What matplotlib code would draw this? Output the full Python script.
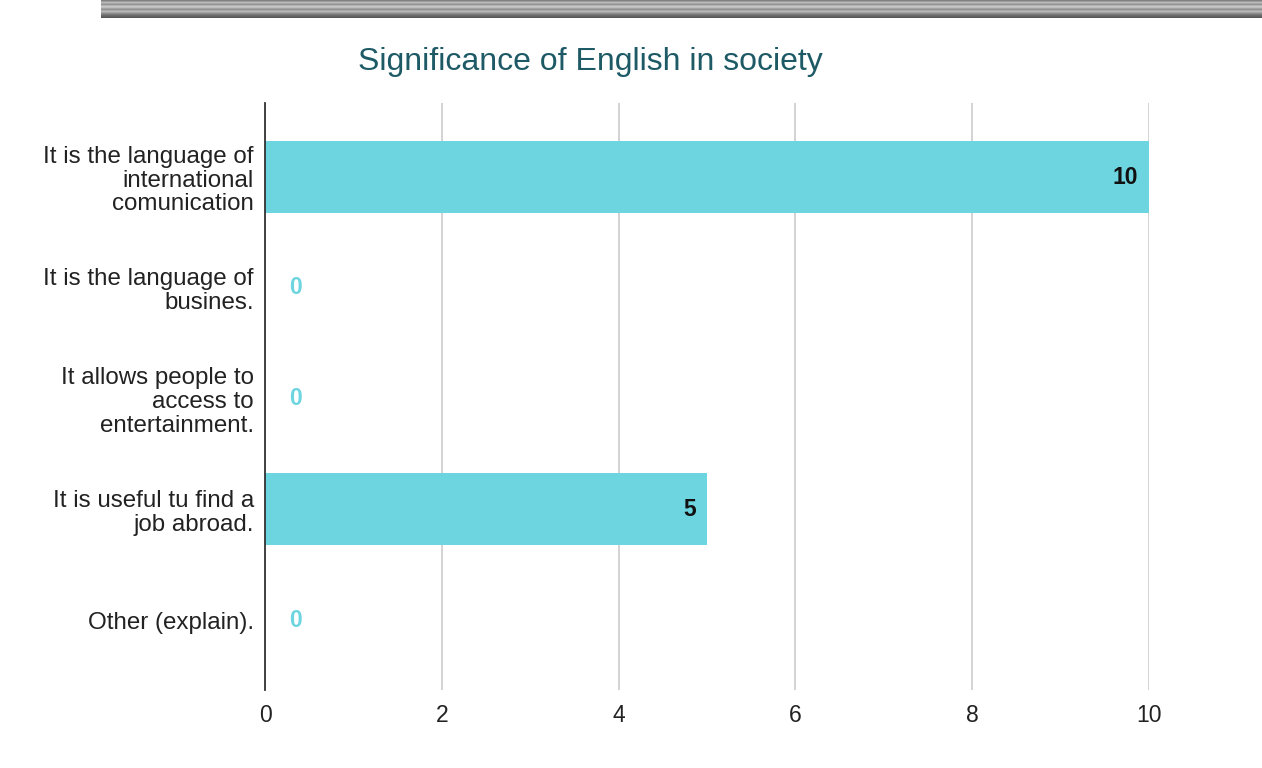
import numpy as np
import matplotlib
matplotlib.use("Agg")
import matplotlib.pyplot as plt

plt.rcParams["font.family"] = ["Liberation Sans", "DejaVu Sans"]

categories = [
    "It is the language of\ninternational\ncomunication",
    "It is the language of\nbusines.",
    "It allows people to\naccess to\nentertainment.",
    "It is useful tu find a\njob abroad.",
    "Other (explain).",
]
counts = [10, 0, 0, 5, 0]
xticks = [0, 2, 4, 6, 8, 10]

BAR = "#6dd5e0"
W, H = 1262, 768

fig = plt.figure(figsize=(W / 100, H / 100), dpi=100)

# decorative striped header band
band = fig.add_axes([101 / W, 1 - 18 / H, (W - 101) / W, 18 / H])
shades = np.array([0.50, 0.62, 0.72, 0.66, 0.58, 0.70, 0.78, 0.74, 0.64,
                   0.58, 0.66, 0.72, 0.64, 0.55, 0.48, 0.42, 0.38, 0.34])
band.imshow(shades[:, None], cmap="gray", vmin=0, vmax=1, aspect="auto",
            interpolation="nearest")
band.axis("off")

ax = fig.add_axes([265 / W, 78 / H, (1149 - 265) / W, (690 - 103) / H])
y = np.arange(len(categories))
ax.barh(y, counts, height=0.65, color=BAR, zorder=3)
ax.set_ylim(len(categories) - 0.37, -0.67)
ax.set_xlim(0, 10)
ax.set_xticks(xticks)
ax.set_yticks(y)
ax.set_yticklabels(categories, fontsize=17.4, color="#222222", linespacing=1.1)
ax.tick_params(axis="both", length=0, pad=8)
ax.tick_params(axis="x", labelsize=16.5, labelcolor="#222222", pad=10)
ax.grid(axis="x", color="#cccccc", lw=1.2, zorder=0)
for s in ["top", "right", "bottom"]:
    ax.spines[s].set_visible(False)
ax.spines["left"].set_color("#333333")
ax.spines["left"].set_linewidth(1.3)
ax.spines["left"].set_zorder(4)

for yi, v in zip(y, counts):
    if v > 0:
        ax.text(v - 0.12, yi, f"{v}", ha="right", va="center",
                fontsize=16.5, fontweight="bold", color="#111111", zorder=5)
    else:
        ax.text(0.27, yi, f"{v}", ha="left", va="center",
                fontsize=16.5, fontweight="bold", color=BAR, zorder=5)

fig.text(590 / W, 1 - 62 / H, "Significance of English in society",
         ha="center", va="center", fontsize=23, color="#1e5a66")

fig.savefig("out.png", dpi=100)
